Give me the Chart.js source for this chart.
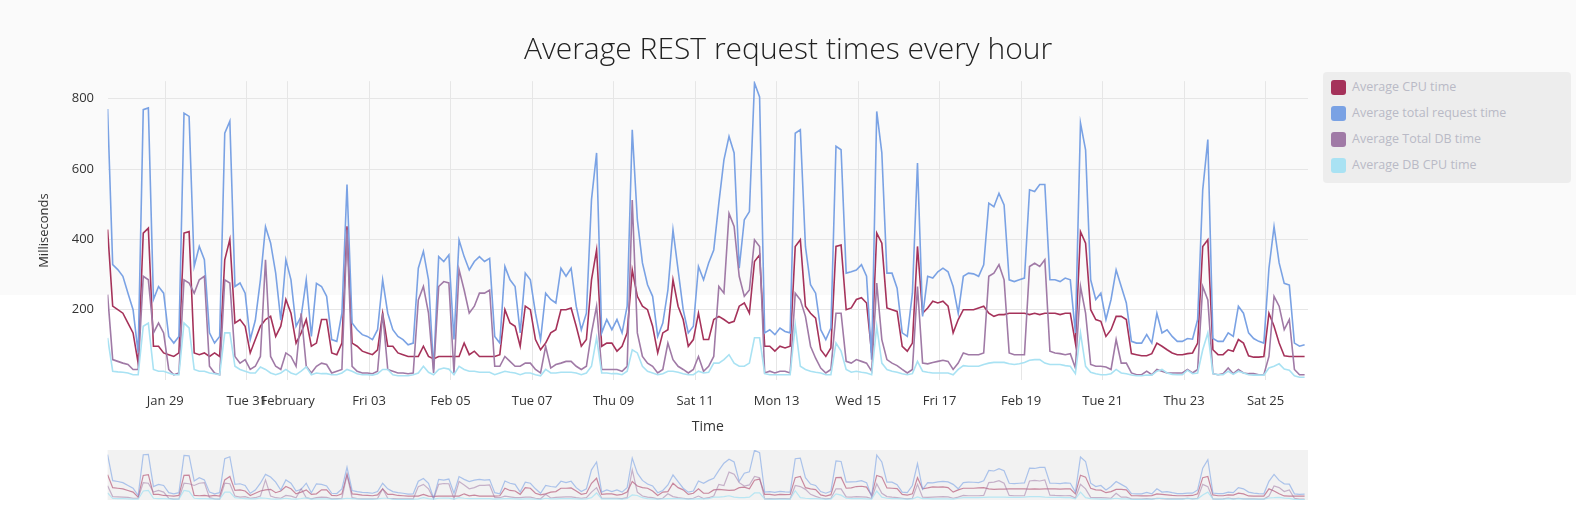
<!DOCTYPE html>
<html>
<head>
<meta charset="utf-8">
<title>Average REST request times every hour</title>
<script src="https://cdn.jsdelivr.net/npm/chart.js@4.4.0/dist/chart.umd.min.js"></script>
<style>
  html, body { margin: 0; padding: 0; }
  body { width: 1576px; height: 510px; position: relative; overflow: hidden; background: #ffffff; font-family: "Open Sans", sans-serif; }
  .page-band { position: absolute; left: 0; top: 0; width: 1576px; height: 295px; background: #fafafa; }
  #main-chart { position: absolute; left: 0; top: 0; }
  #nav-chart { position: absolute; left: 0; top: 440px; }
  .legend { position: absolute; left: 1323px; top: 72px; width: 248px; height: 111px; margin: 0; padding: 0; list-style: none; background: #ededed; border-radius: 4px; }
  .legend__item { position: absolute; left: 8px; height: 16px; line-height: 16px; font-size: 12.5px; color: #b9bac6; white-space: nowrap; }
  .legend__icon { position: absolute; left: 0; top: 0; width: 15px; height: 15px; border-radius: 3px; }
  .legend__text { position: absolute; left: 21px; top: -1px; }
</style>
</head>
<body>
<div class="page-band"></div>
<canvas id="main-chart" width="1576" height="440"></canvas>
<canvas id="nav-chart" width="1576" height="70"></canvas>
<ul class="legend" id="legend"></ul>
<script>
// hours counted from Jan 27 2023 00:00, one sample every 3 hours
const startHour = 14;
const stepHours = 3;

const seriesNames = ["Average CPU time", "Average total request time", "Average Total DB time", "Average DB CPU time"];
const seriesColors = ["#a5325a", "#7aa2e4", "#a07aa6", "#a9e2f3"];
const navColors = ["rgba(165,50,90,0.55)", "rgba(122,162,228,0.6)", "rgba(160,122,166,0.55)", "rgba(169,226,243,0.8)"];

const tickHours = [48, 96, 120, 168, 216, 264, 312, 360, 408, 456, 504, 552, 600, 648, 696];
const tickLabels = ["Jan 29", "Tue 31", "February", "Fri 03", "Feb 05", "Tue 07", "Thu 09", "Sat 11", "Mon 13", "Wed 15", "Fri 17", "Feb 19", "Tue 21", "Thu 23", "Sat 25"];

const cpuTime = [
  428, 210, 200, 190, 162, 134, 48, 418, 432, 96, 96, 77, 72, 67, 77, 418, 422, 77, 72, 77, 67, 77, 67, 342, 400, 162, 172, 153, 77,
  115, 153, 172, 181, 124, 153, 229, 190, 105, 134, 172, 96, 105, 172, 172, 77, 72, 105, 437, 105, 96, 82, 77, 72, 86, 190, 96, 96, 77, 72,
  67, 67, 67, 96, 67, 60, 67, 67, 67, 67, 67, 105, 72, 82, 67, 67, 67, 67, 72, 200, 162, 153, 96, 210, 200, 115, 86, 105, 134,
  143, 200, 200, 205, 153, 96, 115, 285, 370, 96, 105, 105, 82, 96, 134, 313, 238, 210, 200, 153, 77, 134, 143, 285, 210, 172, 96, 115, 190, 115,
  115, 172, 181, 172, 162, 167, 210, 219, 190, 337, 356, 96, 96, 82, 96, 91, 96, 380, 399, 210, 190, 176, 86, 67, 91, 380, 384, 200, 205,
  229, 234, 219, 77, 418, 389, 205, 200, 195, 96, 82, 105, 380, 190, 205, 224, 219, 224, 210, 134, 172, 200, 200, 200, 205, 210, 190, 181, 186, 186,
  190, 190, 190, 190, 186, 190, 186, 190, 190, 190, 186, 190, 190, 105, 422, 389, 200, 172, 167, 124, 143, 181, 181, 172, 75, 72, 69, 69, 75,
  105, 96, 86, 77, 72, 72, 75, 77, 105, 380, 399, 86, 72, 72, 86, 82, 115, 105, 69, 65, 65, 67, 190, 153, 105, 69, 67, 67, 67, 67
];
const totalRequestTime = [
  771, 328, 314, 295, 247, 200, 77, 769, 774, 229, 266, 247, 124, 105, 124, 759, 750, 323, 380, 342, 134, 105, 124, 702, 736, 266, 276, 247, 115,
  170, 285, 436, 390, 304, 170, 342, 285, 153, 181, 285, 124, 275, 266, 238, 115, 110, 190, 556, 162, 143, 129, 124, 115, 143, 285, 190, 143, 124, 115,
  100, 105, 318, 366, 285, 30, 351, 337, 356, 115, 398, 351, 313, 337, 351, 337, 346, 124, 105, 323, 285, 266, 134, 304, 285, 190, 115, 247, 229,
  219, 318, 295, 318, 210, 143, 190, 513, 646, 134, 172, 143, 172, 134, 210, 712, 456, 333, 271, 238, 124, 162, 256, 427, 313, 200, 134, 153, 323, 285,
  333, 370, 503, 626, 693, 646, 318, 456, 479, 845, 805, 134, 143, 129, 148, 138, 134, 702, 712, 380, 271, 247, 143, 115, 148, 665, 655, 304, 308,
  313, 328, 295, 58, 764, 646, 304, 304, 261, 134, 124, 247, 617, 181, 295, 290, 308, 318, 308, 266, 190, 295, 304, 302, 295, 328, 503, 493, 531, 498,
  285, 280, 285, 290, 541, 536, 556, 556, 285, 285, 280, 290, 285, 134, 731, 655, 285, 229, 247, 172, 229, 313, 266, 219, 110, 105, 105, 129, 105,
  190, 134, 143, 124, 110, 110, 118, 116, 172, 541, 684, 118, 110, 110, 134, 124, 210, 190, 134, 118, 110, 105, 318, 436, 333, 275, 270, 105, 96, 100
];
const totalDbTime = [
  243, 58, 53, 48, 44, 30, 30, 295, 285, 134, 162, 134, 30, 15, 20, 285, 276, 247, 285, 295, 39, 20, 15, 285, 276, 67, 48, 58, 30,
  39, 67, 342, 67, 39, 30, 77, 67, 39, 190, 39, 20, 39, 48, 44, 20, 25, 30, 428, 39, 25, 20, 20, 18, 25, 190, 30, 25, 20, 20,
  18, 20, 228, 266, 190, 20, 266, 280, 276, 20, 314, 256, 190, 210, 247, 247, 256, 39, 39, 67, 53, 39, 39, 48, 48, 30, 20, 96, 34,
  44, 48, 53, 53, 39, 30, 39, 134, 210, 30, 30, 30, 30, 25, 39, 512, 134, 67, 48, 39, 20, 30, 105, 58, 39, 30, 20, 30, 67, 25,
  39, 67, 266, 247, 474, 437, 295, 238, 256, 399, 380, 20, 25, 20, 25, 25, 20, 247, 228, 181, 96, 62, 34, 20, 30, 190, 190, 53, 48,
  58, 53, 48, 25, 276, 115, 58, 48, 41, 30, 20, 30, 266, 48, 46, 50, 53, 56, 53, 30, 48, 77, 72, 72, 72, 77, 295, 304, 328, 285,
  77, 72, 72, 72, 323, 332, 323, 342, 82, 77, 75, 72, 75, 34, 266, 190, 44, 39, 39, 37, 30, 115, 48, 48, 20, 15, 15, 25, 15,
  30, 25, 20, 20, 20, 20, 30, 20, 30, 266, 228, 18, 15, 18, 34, 18, 30, 20, 18, 18, 15, 15, 67, 238, 210, 143, 172, 30, 15, 15
];
const dbCpuTime = [
  120, 25, 23, 22, 20, 15, 15, 153, 162, 30, 25, 25, 20, 15, 15, 162, 148, 30, 25, 25, 20, 18, 15, 134, 134, 39, 30, 25, 20,
  20, 37, 30, 20, 15, 20, 30, 20, 15, 25, 37, 15, 20, 18, 18, 15, 15, 20, 30, 25, 18, 15, 15, 14, 18, 30, 30, 15, 12, 12,
  12, 15, 20, 39, 22, 15, 30, 34, 31, 15, 39, 30, 25, 25, 22, 22, 22, 15, 20, 25, 22, 20, 15, 20, 20, 15, 12, 30, 20,
  20, 22, 22, 22, 20, 15, 20, 39, 120, 20, 20, 18, 18, 15, 25, 86, 77, 39, 25, 20, 15, 18, 25, 25, 22, 18, 15, 15, 25, 20,
  22, 48, 48, 58, 72, 48, 39, 39, 48, 120, 120, 18, 15, 15, 15, 15, 15, 157, 39, 30, 25, 22, 20, 15, 15, 105, 82, 30, 22,
  25, 22, 20, 15, 153, 48, 30, 25, 22, 18, 15, 18, 53, 25, 22, 20, 20, 20, 20, 15, 30, 41, 39, 39, 39, 44, 48, 50, 50, 50,
  46, 44, 46, 50, 56, 58, 58, 48, 44, 44, 44, 41, 39, 18, 134, 39, 22, 18, 15, 15, 18, 30, 20, 18, 14, 12, 12, 14, 14,
  25, 30, 20, 16, 15, 15, 28, 18, 20, 86, 134, 18, 15, 15, 25, 16, 25, 20, 15, 14, 14, 14, 34, 39, 46, 31, 28, 12, 8, 8
];

const seriesValues = [cpuTime, totalRequestTime, totalDbTime, dbCpuTime];
const hours = cpuTime.map((_, i) => startHour + i * stepHours);
const firstHour = startHour;
const lastHour = 721;

function toPoints(values) {
  return values.map((v, i) => ({ x: hours[i], y: v }));
}

const tickFont = { family: "Open Sans", size: 13 };

//main chart
const mainCtx = document.getElementById("main-chart").getContext("2d");
const mainChart = new Chart(mainCtx, {
  type: "line",
  data: {
    datasets: seriesValues.map((values, index) => ({
      label: seriesNames[index],
      data: toPoints(values),
      borderColor: seriesColors[index],
      borderWidth: 1.6,
      pointRadius: 0,
      tension: 0,
      fill: false,
      order: 3 - index,
    })),
  },
  options: {
    responsive: false,
    animation: false,
    layout: { padding: 0 },
    plugins: {
      legend: { display: false },
      tooltip: { enabled: false },
      title: {
        display: true,
        text: "Average REST request times every hour",
        color: "#222222",
        font: { family: "Open Sans", size: 30, weight: 300 },
        padding: { top: 32, bottom: 13.2 },
      },
    },
    scales: {
      x: {
        type: "linear",
        min: firstHour,
        max: lastHour,
        afterBuildTicks: (scale) => {
          scale.ticks = tickHours.map((v) => ({ value: v }));
        },
        afterFit: (scale) => {
          scale.height = 60;
        },
        ticks: {
          autoSkip: false,
          maxRotation: 0,
          padding: 13,
          color: "#333333",
          font: tickFont,
          callback: (value) => {
            const k = tickHours.indexOf(value);
            return k >= 0 ? tickLabels[k] : "";
          },
        },
        grid: { color: "#e6e6e6", drawTicks: false },
        border: { display: false },
        title: {
          display: true,
          text: "Time",
          color: "#333333",
          font: { family: "Open Sans", size: 14 },
          padding: { top: 0, bottom: 4.6 },
        },
      },
      y: {
        min: 0,
        max: 850,
        afterFit: (scale) => {
          scale.width = 107.6;
        },
        ticks: {
          stepSize: 200,
          includeBounds: false,
          padding: 13.6,
          color: "#333333",
          font: tickFont,
          callback: (value) => (value === 0 ? "" : value),
        },
        grid: {
          drawTicks: false,
          color: (ctx) => (ctx.tick && ctx.tick.value === 0 ? "rgba(0,0,0,0)" : "#e6e6e6"),
        },
        border: { display: false },
        title: {
          display: true,
          text: "Milliseconds",
          color: "#333333",
          font: { family: "Open Sans", size: 13 },
          padding: { top: 36, bottom: 0 },
        },
      },
      // empty right-hand axis keeps room for the legend
      pad: {
        position: "right",
        display: true,
        grid: { display: false },
        ticks: { display: false },
        border: { display: false },
        afterFit: (scale) => {
          scale.width = 268;
        },
      },
    },
  },
});

//navigator chart
const navBackground = {
  id: "navBackground",
  beforeDraw(chart) {
    const { ctx, chartArea } = chart;
    ctx.save();
    ctx.fillStyle = "#f2f2f2";
    ctx.fillRect(chartArea.left, chartArea.top, chartArea.right - chartArea.left, chartArea.bottom - chartArea.top);
    ctx.restore();
  },
};
const navCtx = document.getElementById("nav-chart").getContext("2d");
const navChart = new Chart(navCtx, {
  type: "line",
  data: {
    datasets: seriesValues.map((values, index) => ({
      label: seriesNames[index],
      data: toPoints(values),
      borderColor: navColors[index],
      borderWidth: 1.2,
      pointRadius: 0,
      tension: 0,
      fill: false,
      order: 3 - index,
    })),
  },
  options: {
    responsive: false,
    animation: false,
    layout: { padding: { left: 107.6, right: 268, top: 10, bottom: 10 } },
    plugins: { legend: { display: false }, tooltip: { enabled: false } },
    scales: {
      x: { type: "linear", min: firstHour, max: lastHour, display: false },
      y: { min: 0, max: 850, display: false },
    },
  },
  plugins: [navBackground],
});

//building legend
const legend = document.getElementById("legend");
seriesNames.forEach((name, index) => {
  const item = document.createElement("li");
  item.className = "legend__item";
  item.style.top = (7.5 + index * 26) + "px";
  item.innerHTML = `<span class="legend__icon" style="background:${seriesColors[index]}"></span><span class="legend__text">${name}</span>`;
  legend.appendChild(item);
});
</script>
</body>
</html>
